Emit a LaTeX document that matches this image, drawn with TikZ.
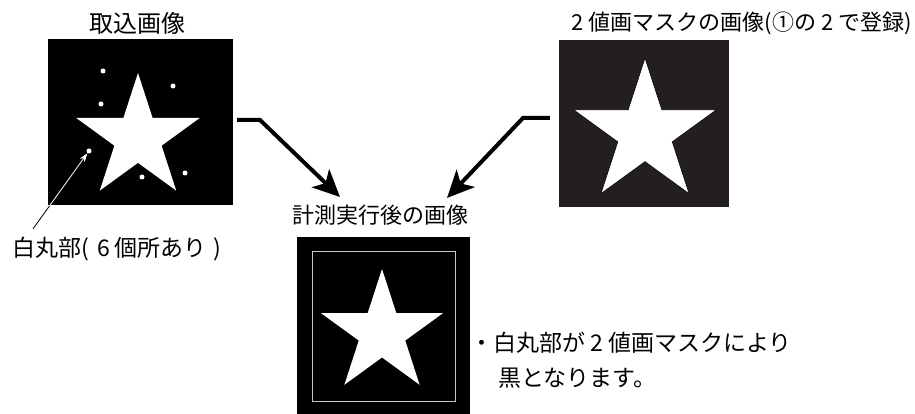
\documentclass[tikz,border=0pt]{standalone}
\usepackage{fontspec}
\setmainfont{Noto Sans CJK JP}
\usepackage{tikz}
\usetikzlibrary{shapes.geometric, arrows.meta, positioning, calc}
\definecolor{maskgray}{RGB}{35,31,32}
\definecolor{framegray}{RGB}{200,200,200}
\tikzset{
  photo/.style={rectangle, fill=black, draw=none, inner sep=0pt},
  starmark/.style={star, star points=5, star point ratio=2.618,
    fill=white, draw=none, inner sep=0pt},
  dotmark/.style={circle, fill=white, draw=none, inner sep=0pt, minimum size=5pt},
  bigarrow/.style={-{Stealth[length=27pt, width=25pt, inset=7pt]},
    line width=4pt, color=black, line join=miter},
  thinarrow/.style={-{Stealth[length=9pt, width=6pt]}, line width=0.8pt},
  caption/.style={font=\fontsize{22}{26}\selectfont, inner sep=0pt},
  note/.style={font=\fontsize{23}{27}\selectfont, inner sep=0pt, anchor=west}
}

\begin{document}
\begin{tikzpicture}[x=1pt, y=-1pt]
  \useasboundingbox (0,0) rectangle (915,414);

  % captured image
  \node[photo, minimum width=185pt, minimum height=166pt] (capt) at (140.5,122) {};
  \node[starmark, minimum size=130pt] (captstar) at (138,138) {};
  \node[dotmark] (dot1) at (103,71) {};
  \node[dotmark] (dot2) at (173,86) {};
  \node[dotmark] (dot3) at (101,104) {};
  \node[dotmark] (dot4) at (89,151) {};
  \node[dotmark] (dot5) at (142,177) {};
  \node[dotmark] (dot6) at (185,173) {};
  \node[caption, font=\fontsize{24}{28}\selectfont] (captlbl) at (137,23) {取込画像};

  % mask image
  \node[photo, fill=maskgray, minimum width=170pt, minimum height=167pt] (mask) at (644,123.5) {};
  \node[starmark, draw=black, line width=0.6pt, minimum size=150pt] (maskstar) at (645,133) {};
  \node[caption, anchor=east] (masklbl) at (912,23) {2 値画マスクの画像(①の 2 で登録)};

  % result image
  \node[photo, minimum width=173pt, minimum height=177pt] (res) at (383.5,325.5) {};
  \node[rectangle, draw=framegray, line width=0.8pt, inner sep=0pt,
    minimum width=143pt, minimum height=150pt] (resframe) at (383.5,326) {};
  \node[starmark, minimum size=128pt] (resstar) at (382,333) {};
  \node[caption] (reslbl) at (380,215) {計測実行後の画像};

  % white dot label
  \node[note] (dotlbl) at (12,249) {白丸部(\hspace{0.35em}6 個所あり\hspace{0.3em})};
  \coordinate (dotstart) at ([xshift=21pt, yshift=8pt]dotlbl.north west);
  \draw[thinarrow, black] (dotstart) -- (dot4);
  \begin{scope}
    \clip (capt.north west) rectangle (capt.south east);
    \draw[thinarrow, white] (dotstart) -- (dot4);
  \end{scope}

  % notes
  \node[note] (note1) at (470,343) {・白丸部が 2 値画マスクにより};
  \node[note] (note2) at (498,378) {黒となります。};

  % arrows
  \coordinate (lbend) at (260,120);
  \coordinate (ltip) at (340,197);
  \draw[bigarrow] (capt.east |- lbend) ++(4,0) -- (lbend) -- (ltip);
  \coordinate (rbend) at (523,118);
  \coordinate (rtip) at (447,198);
  \draw[bigarrow] (mask.west |- rbend) ++(-9,0) -- (rbend) -- (rtip);
\end{tikzpicture}
\end{document}
